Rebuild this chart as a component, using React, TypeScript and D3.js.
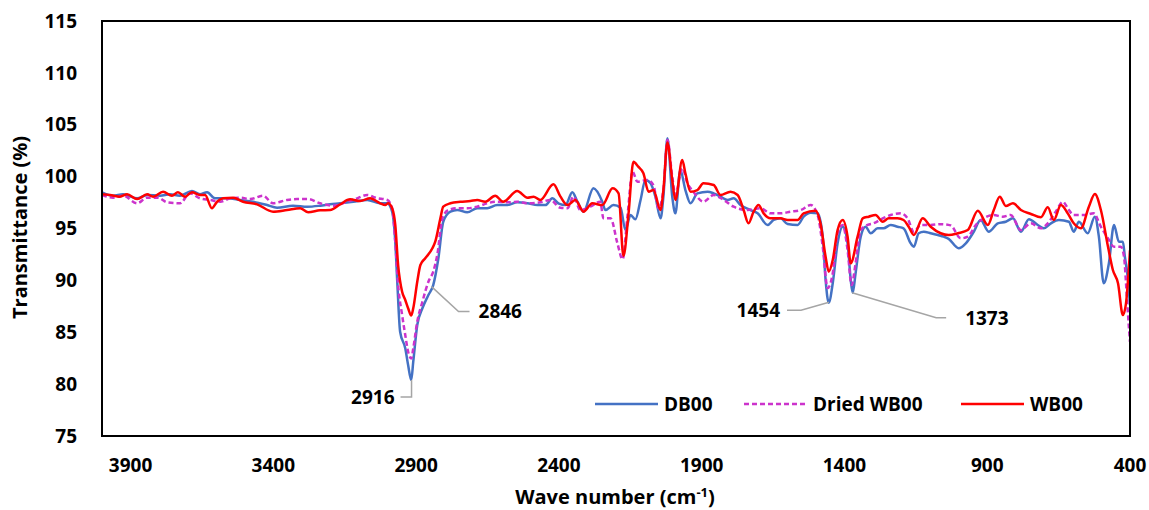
import React from 'react';
import * as d3 from 'd3';

// FTIR spectra, [wave number (cm-1), transmittance (%)]
const waveTicks = [3900, 3400, 2900, 2400, 1900, 1400, 900, 400];
const transTicks = [75, 80, 85, 90, 95, 100, 105, 110, 115];

const db00: [number, number][] = [
  [4000, 98.49], [3961, 98.16], [3926, 98.3], [3877, 97.91], [3842, 98.23], [3797, 98.16], [3762, 98.3],
  [3727, 98.16], [3685, 98.61], [3657, 98.3], [3632, 98.49], [3604, 97.91], [3562, 97.91], [3516, 97.75],
  [3471, 97.58], [3422, 97.26], [3387, 97.0], [3331, 97.2], [3281, 97.1], [3236, 97.2], [3201, 97.33],
  [3166, 97.43], [3120, 97.58], [3071, 97.75], [3026, 97.43], [3001, 97.43], [2984, 96.62], [2973, 93.73],
  [2966, 89.87], [2956, 85.05], [2938, 83.45], [2928, 81.84], [2917, 80.4], [2910, 82.16], [2896, 85.7],
  [2878, 87.31], [2857, 88.59], [2840, 89.55], [2822, 92.13], [2805, 95.65], [2780, 96.62], [2756, 96.78],
  [2721, 96.56], [2686, 96.95], [2651, 96.95], [2616, 97.26], [2580, 97.26], [2546, 97.52], [2510, 97.43],
  [2475, 97.26], [2447, 97.26], [2423, 97.91], [2400, 97.4], [2377, 97.26], [2353, 98.5], [2335, 97.58],
  [2314, 96.62], [2279, 98.87], [2248, 97.58], [2237, 96.78], [2209, 97.26], [2184, 97.0], [2167, 94.85],
  [2149, 96.3], [2132, 95.89], [2114, 97.75], [2097, 99.67], [2079, 99.36], [2062, 98.07], [2044, 95.98],
  [2034, 98.07], [2020, 103.69], [2003, 98.07], [1992, 96.46], [1975, 100.64], [1957, 98.71], [1939, 97.43],
  [1915, 98.39], [1879, 98.55], [1858, 98.39], [1834, 98.07], [1809, 97.75], [1788, 97.91], [1764, 97.26],
  [1729, 96.78], [1704, 96.46], [1669, 95.34], [1648, 95.82], [1624, 95.98], [1599, 95.43], [1564, 95.34],
  [1543, 96.14], [1518, 96.52], [1494, 96.46], [1476, 94.21], [1466, 90.04], [1455, 87.85], [1441, 89.72],
  [1424, 93.57], [1406, 95.17], [1389, 93.57], [1378, 90.04], [1371, 88.81], [1361, 90.68], [1343, 94.21],
  [1326, 95.17], [1308, 94.54], [1284, 95.02], [1263, 95.02], [1238, 95.34], [1214, 95.17], [1193, 95.02],
  [1168, 93.57], [1157, 93.25], [1140, 94.54], [1122, 94.69], [1098, 94.54], [1073, 94.37], [1052, 94.21],
  [1035, 94.0], [1000, 93.09], [975, 93.57], [947, 94.69], [923, 95.82], [895, 94.69], [863, 95.5],
  [835, 95.65], [810, 95.98], [782, 94.69], [754, 95.89], [723, 95.34], [702, 95.02], [677, 95.5],
  [649, 95.82], [614, 95.65], [597, 94.69], [579, 95.65], [548, 94.54], [523, 96.14], [509, 94.21],
  [492, 89.72], [474, 91.64], [456, 95.34], [439, 93.73], [425, 93.73], [418, 92.28], [407, 90.04], [400, 87.6],
];

const driedWb00: [number, number][] = [
  [4000, 98.23], [3961, 97.97], [3926, 98.16], [3877, 97.43], [3842, 97.97], [3804, 97.97], [3772, 97.52],
  [3727, 97.43], [3692, 98.39], [3657, 97.91], [3621, 97.75], [3586, 97.58], [3551, 97.91], [3516, 97.97],
  [3481, 97.84], [3436, 98.16], [3401, 97.43], [3352, 97.75], [3317, 97.84], [3278, 97.84], [3236, 97.43],
  [3190, 97.2], [3141, 97.58], [3106, 97.91], [3071, 98.23], [3040, 97.95], [3001, 97.75], [2984, 96.95],
  [2973, 93.73], [2963, 89.55], [2949, 86.66], [2938, 84.73], [2928, 83.12], [2917, 82.47], [2910, 83.45],
  [2896, 86.02], [2878, 87.94], [2857, 89.87], [2840, 90.84], [2826, 92.44], [2808, 95.98], [2787, 96.78],
  [2756, 96.95], [2721, 96.95], [2686, 97.1], [2651, 97.43], [2616, 97.58], [2580, 97.52], [2546, 97.58],
  [2510, 97.43], [2465, 97.52], [2430, 97.75], [2395, 97.0], [2370, 96.95], [2349, 98.07], [2325, 96.78],
  [2290, 97.1], [2255, 97.58], [2244, 95.98], [2219, 95.98], [2195, 93.57], [2177, 92.03], [2160, 96.14],
  [2142, 100.48], [2125, 99.51], [2090, 99.67], [2069, 99.19], [2051, 96.95], [2034, 98.71], [2020, 103.53],
  [2003, 99.99], [1992, 98.23], [1968, 100.8], [1950, 99.36], [1929, 98.55], [1894, 97.58], [1858, 98.23],
  [1823, 97.75], [1788, 97.1], [1739, 96.78], [1694, 96.95], [1659, 96.46], [1624, 96.46], [1589, 96.62],
  [1553, 96.78], [1518, 97.26], [1494, 96.3], [1476, 93.24], [1459, 89.26], [1441, 90.68], [1424, 94.54],
  [1406, 95.34], [1389, 92.93], [1375, 89.55], [1361, 91.64], [1343, 94.85], [1319, 95.34], [1298, 95.5],
  [1266, 95.98], [1238, 96.3], [1203, 96.46], [1179, 95.98], [1157, 94.69], [1133, 95.34], [1098, 95.34],
  [1063, 95.42], [1028, 95.3], [993, 94.05], [968, 94.21], [940, 95.34], [912, 95.98], [877, 96.3],
  [846, 96.14], [818, 96.3], [782, 94.85], [747, 95.5], [712, 95.02], [688, 95.5], [660, 96.62],
  [635, 97.58], [618, 96.95], [597, 96.3], [562, 96.3], [527, 96.46], [502, 95.17], [477, 94.05],
  [456, 93.24], [432, 93.24], [421, 92.28], [411, 88.43], [404, 85.53], [400, 84.06],
];

const wb00: [number, number][] = [
  [4000, 98.3], [3972, 98.23], [3937, 98.07], [3912, 98.3], [3877, 97.84], [3842, 98.3], [3821, 98.07],
  [3786, 98.55], [3755, 98.16], [3734, 98.49], [3709, 98.07], [3685, 98.49], [3657, 98.23], [3639, 98.23],
  [3615, 96.95], [3597, 97.58], [3576, 97.91], [3541, 97.97], [3506, 97.58], [3457, 97.33], [3401, 96.62],
  [3352, 96.78], [3306, 96.95], [3278, 96.56], [3236, 96.75], [3201, 96.78], [3166, 97.33], [3131, 97.81],
  [3096, 97.65], [3061, 97.91], [3026, 97.43], [3008, 97.26], [2998, 97.43], [2984, 96.95], [2973, 95.34],
  [2963, 91.48], [2949, 88.91], [2938, 88.11], [2928, 87.31], [2917, 86.61], [2910, 87.31], [2896, 89.87],
  [2885, 91.48], [2868, 92.13], [2843, 93.09], [2833, 93.73], [2815, 95.98], [2805, 97.1], [2780, 97.43],
  [2745, 97.58], [2710, 97.65], [2686, 97.75], [2658, 97.58], [2623, 98.16], [2595, 97.58], [2546, 98.61],
  [2510, 97.97], [2489, 98.07], [2465, 97.75], [2419, 99.26], [2395, 98.1], [2370, 97.26], [2342, 97.75],
  [2314, 96.62], [2283, 97.43], [2248, 97.26], [2212, 98.87], [2191, 98.39], [2174, 92.35], [2156, 96.46],
  [2139, 101.43], [2122, 100.96], [2104, 100.32], [2086, 98.55], [2069, 98.71], [2044, 96.78], [2034, 98.71],
  [2020, 103.29], [2003, 99.67], [1992, 97.75], [1968, 101.6], [1957, 100.32], [1939, 98.55], [1915, 98.71],
  [1894, 99.36], [1858, 99.19], [1834, 98.23], [1799, 98.55], [1774, 98.23], [1753, 96.78], [1736, 95.5],
  [1718, 96.62], [1701, 97.26], [1683, 96.46], [1659, 95.98], [1624, 95.98], [1599, 95.82], [1564, 95.82],
  [1543, 96.46], [1501, 96.71], [1484, 95.5], [1466, 92.28], [1455, 90.84], [1441, 91.96], [1424, 94.85],
  [1406, 95.82], [1389, 94.21], [1378, 91.64], [1354, 94.21], [1336, 95.98], [1315, 96.14], [1291, 96.3],
  [1266, 95.65], [1245, 95.98], [1214, 95.98], [1193, 95.82], [1175, 95.17], [1157, 94.37], [1126, 95.98],
  [1098, 95.17], [1063, 94.54], [1035, 94.37], [1003, 94.54], [968, 94.85], [933, 96.71], [898, 95.34],
  [877, 96.78], [856, 98.07], [835, 97.17], [810, 97.43], [782, 96.78], [747, 96.4], [712, 96.08],
  [688, 97.04], [667, 95.82], [642, 97.26], [618, 96.46], [597, 95.5], [572, 95.02], [544, 97.1],
  [523, 98.32], [502, 96.78], [477, 93.24], [460, 91.0], [442, 89.72], [425, 86.66], [414, 87.79], [400, 92.9],
];

const seriesNames = ['DB00', 'Dried WB00', 'WB00'];
const seriesData = [db00, driedWb00, wb00];

// peak labels: wave number and the transmittance the leader points at
const peakNames = ['2916', '2846', '1454', '1373'];
const peakWaves = [2916, 2846, 1454, 1373];
const peakValues = [80.4, 89.4, 87.9, 88.8];

const W = 1149;
const H = 510;
const plot = { left: 102, top: 21, right: 1130, bottom: 436 };
const font = "'Open Sans', sans-serif";
const colors = ['#4472C4', '#CC33CC', '#FF0000'];
const dashes = [undefined, '5,3', undefined];

// leader elbows (pixel offsets from the peak point) and text placement
const leaders: { pts: [number, number][]; tx: number; ty: number; anchor: string }[] = [
  { pts: [[0, 17], [-11, 17]], tx: -17, ty: 17, anchor: 'end' },
  { pts: [[27, 25], [38, 25]], tx: 47, ty: 25, anchor: 'start' },
  { pts: [[-28, 8], [-42, 8]], tx: -49, ty: 8, anchor: 'end' },
  { pts: [[84, 25], [94, 25]], tx: 113, ty: 26, anchor: 'start' },
];

const legendX = [595, 744, 961];
const legendLen = 63;
const legendY = 404;

export default function App() {
  const x = d3.scaleLinear().domain([4000, 400]).range([plot.left, plot.right]);
  const y = d3.scaleLinear().domain([75, 115]).range([plot.bottom, plot.top]);
  const line = d3
    .line<[number, number]>()
    .x(d => x(d[0]))
    .y(d => y(d[1]))
    .curve(d3.curveMonotoneX);

  return (
    <svg width={W} height={H} style={{ position: 'absolute', left: 0, top: 0, background: '#fff' }} fontFamily={font}>
      {/* y tick labels */}
      {transTicks.map(t => (
        <text key={t} x={77} y={y(t)} dy="0.35em" textAnchor="end" fontSize={19} fontWeight={700}>
          {t}
        </text>
      ))}
      {/* x tick labels */}
      {waveTicks.map(t => (
        <text key={t} x={x(t)} y={465} dy="0.35em" textAnchor="middle" fontSize={19} fontWeight={700}>
          {t}
        </text>
      ))}

      <clipPath id="plotClip">
        <rect x={plot.left} y={plot.top} width={plot.right - plot.left} height={plot.bottom - plot.top} />
      </clipPath>

      <g clipPath="url(#plotClip)">
        {seriesData.map((d, i) => (
          <path
            key={seriesNames[i]}
            d={line(d) || ''}
            fill="none"
            stroke={colors[i]}
            strokeWidth={2.5}
            strokeDasharray={dashes[i]}
            strokeLinejoin="round"
          />
        ))}
      </g>

      {/* peak annotations */}
      {peakNames.map((name, i) => {
        const px = x(peakWaves[i]);
        const py = y(peakValues[i]);
        const L = leaders[i];
        const pts: [number, number][] = [[px, py], ...L.pts.map(p => [px + p[0], py + p[1]] as [number, number])];
        return (
          <g key={name}>
            <path d={d3.line()(pts) || ''} fill="none" stroke="#A5A5A5" strokeWidth={1.5} />
            <text x={px + L.tx} y={py + L.ty} dy="0.35em" textAnchor={L.anchor} fontSize={19} fontWeight={700}>
              {name}
            </text>
          </g>
        );
      })}

      {/* legend */}
      {seriesNames.map((name, i) => (
        <g key={name}>
          <line
            x1={legendX[i]}
            x2={legendX[i] + legendLen}
            y1={legendY}
            y2={legendY}
            stroke={colors[i]}
            strokeWidth={2.5}
            strokeDasharray={dashes[i]}
          />
          <text x={legendX[i] + legendLen + 6} y={legendY} dy="0.35em" fontSize={19} fontWeight={700}>
            {name}
          </text>
        </g>
      ))}

      {/* plot frame */}
      <rect
        x={plot.left}
        y={plot.top}
        width={plot.right - plot.left}
        height={plot.bottom - plot.top}
        fill="none"
        stroke="#000"
        strokeWidth={2}
      />

      {/* axis titles */}
      <text
        transform={`translate(20,${(plot.top + plot.bottom) / 2 - 1}) rotate(-90)`}
        dy="0.35em"
        textAnchor="middle"
        fontSize={20}
        fontWeight={700}
      >
        Transmittance (%)
      </text>
      <text x={615} y={497} dy="0.35em" textAnchor="middle" fontSize={20} fontWeight={700}>
        Wave number (cm<tspan fontSize={13} dy="-7">-1</tspan>
        <tspan dy="7">)</tspan>
      </text>
    </svg>
  );
}
